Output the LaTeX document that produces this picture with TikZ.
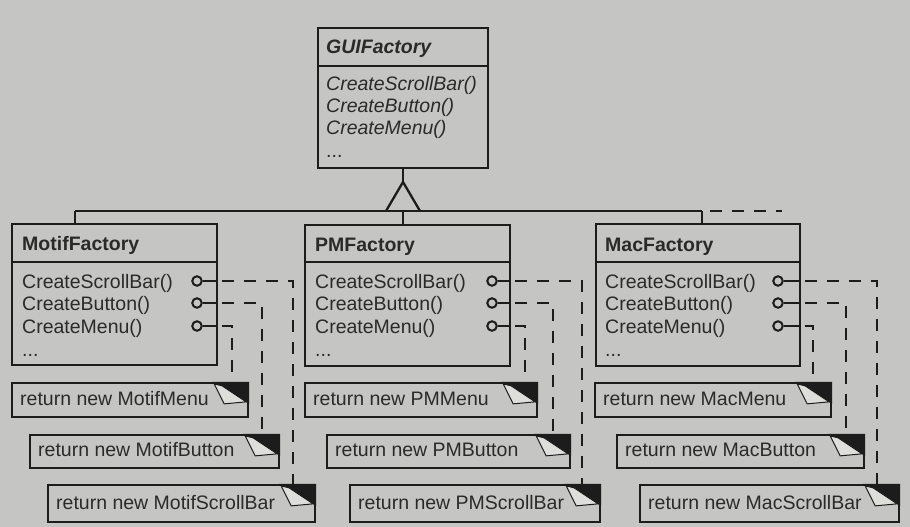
\documentclass[tikz,border=0pt]{standalone}
\usepackage{fontspec}
\setmainfont{Liberation Sans}
\usetikzlibrary{calc}
\definecolor{paper}{RGB}{197,197,195}
\definecolor{ink}{RGB}{28,28,28}
\definecolor{txt}{RGB}{42,42,42}
\definecolor{fold}{RGB}{222,222,219}
\tikzset{
  classbox/.style={draw=ink, line width=2.3pt, fill=paper, rectangle, inner sep=0pt},
  notebox/.style={draw=ink, line width=2.3pt, fill=paper, rectangle, inner sep=0pt},
  wire/.style={draw=ink, line width=2.3pt},
  dashline/.style={draw=ink, line width=2.6pt, dash pattern=on 12pt off 10pt},
  port/.style={circle, draw=ink, line width=2pt, fill=paper, minimum size=9.5pt, inner sep=0pt},
  lbl/.style={anchor=base west, text=txt, inner sep=0pt, font=\fontsize{19.5}{22}\selectfont},
  hdr/.style={lbl, font=\fontsize{19.5}{22}\selectfont\bfseries},
}
\newcommand\noteear[1]{%
  \fill[ink] ([xshift=-37pt]#1.north east) -- (#1.north east) -- ([yshift=-22pt]#1.north east) -- cycle;
  \filldraw[fill=fold, draw=ink, line width=1pt] ([xshift=-35pt,yshift=-2pt]#1.north east) -- ([xshift=-27pt,yshift=-4pt]#1.north east) -- ([xshift=-3pt,yshift=-20pt]#1.north east) -- ([xshift=-25pt,yshift=-22pt]#1.north east) -- cycle;
}
\begin{document}
\begin{tikzpicture}[x=1pt,y=-1pt]
\fill[paper] (0,0) rectangle (910,527);
\useasboundingbox (0,0) rectangle (910,527);

% ---------- abstract factory ----------
\node[classbox, minimum width=170pt, minimum height=140pt] (gui) at (403,98) {};
\draw[wire] ([yshift=-39pt]gui.north west) -- ([yshift=-39pt]gui.north east);
\node[hdr, font=\fontsize{19.5}{22}\selectfont\bfseries\itshape] (guiname) at (326,53) {GUIFactory};
\node[lbl, font=\fontsize{19.5}{22}\selectfont\itshape] (g1) at (326,90) {CreateScrollBar()};
\node[lbl, font=\fontsize{19.5}{22}\selectfont\itshape] (g2) at (326,112) {CreateButton()};
\node[lbl, font=\fontsize{19.5}{22}\selectfont\itshape] (g3) at (326,134) {CreateMenu()};
\node[lbl] (g4) at (326,157) {...};

% ---------- concrete factories ----------
\node[classbox, minimum width=205pt, minimum height=141pt] (motif) at (114.5,294.5) {};
\node[classbox, minimum width=205pt, minimum height=141pt] (pm) at (407.5,295.5) {};
\node[classbox, minimum width=204pt, minimum height=142pt] (mac) at (698,295) {};
\draw[wire] ([yshift=-39pt]motif.north west) -- ([yshift=-39pt]motif.north east);
\draw[wire] ([yshift=-38pt]pm.north west) -- ([yshift=-38pt]pm.north east);
\draw[wire] ([yshift=-39pt]mac.north west) -- ([yshift=-39pt]mac.north east);

\node[hdr] (motifname) at (22,250) {MotifFactory};
\node[lbl] (m1t) at (22,288) {CreateScrollBar()};
\node[lbl] (m2t) at (22,310) {CreateButton()};
\node[lbl] (m3t) at (22,333) {CreateMenu()};
\node[lbl] (m4t) at (22,356) {...};

\node[hdr] (pmname) at (315,251) {PMFactory};
\node[lbl] (p1t) at (315,288) {CreateScrollBar()};
\node[lbl] (p2t) at (315,310) {CreateButton()};
\node[lbl] (p3t) at (315,333) {CreateMenu()};
\node[lbl] (p4t) at (315,356) {...};

\node[hdr] (macname) at (605,251) {MacFactory};
\node[lbl] (c1t) at (605,288) {CreateScrollBar()};
\node[lbl] (c2t) at (605,310) {CreateButton()};
\node[lbl] (c3t) at (605,333) {CreateMenu()};
\node[lbl] (c4t) at (605,356) {...};

% ---------- inheritance ----------
\coordinate (apex) at (403,182);
\coordinate (tl) at (386,211);
\coordinate (tr) at (420,211);
\coordinate (tbase) at (403,211);
\coordinate (busL) at (75,211);
\coordinate (busR) at (702,211);
\coordinate (busX) at (782,211);
\draw[wire] (gui.south) -- (apex);
\draw[wire, line join=miter] (tl) -- (apex) -- (tr);
\draw[wire] (busL) -- (busR);
\draw[wire] (busL) -- (busL |- motif.north);
\draw[wire] (tbase) -- (tbase |- pm.north);
\draw[wire] (busR) -- (busR |- mac.north);
\draw[dashline, dash phase=-8pt] (busR) -- (busX);

% ---------- implementation notes ----------
\node[notebox, minimum width=236pt, minimum height=34pt] (nmm) at (130,400) {};
\node[notebox, minimum width=249pt, minimum height=33pt] (nmb) at (154.5,451.5) {};
\node[notebox, minimum width=267pt, minimum height=37pt] (nms) at (181.5,503.5) {};
\node[notebox, minimum width=232pt, minimum height=34pt] (npm) at (421,400) {};
\node[notebox, minimum width=243pt, minimum height=33pt] (npb) at (448.5,451.5) {};
\node[notebox, minimum width=250pt, minimum height=37pt] (nps) at (475,503.5) {};
\node[notebox, minimum width=236pt, minimum height=34pt] (ncm) at (713,400) {};
\node[notebox, minimum width=247pt, minimum height=33pt] (ncb) at (740.5,451.5) {};
\node[notebox, minimum width=259pt, minimum height=37pt] (ncs) at (769.5,503.5) {};
\foreach \n in {nmm,nmb,nms,npm,npb,nps,ncm,ncb,ncs} {\noteear{\n}}

\node[lbl] (tmm) at (20,405) {return new MotifMenu};
\node[lbl] (tmb) at (38,456) {return new MotifButton};
\node[lbl] (tms) at (56,509) {return new MotifScrollBar};
\node[lbl] (tpm) at (313,405) {return new PMMenu};
\node[lbl] (tpb) at (335,456) {return new PMButton};
\node[lbl] (tps) at (358,509) {return new PMScrollBar};
\node[lbl] (tcm) at (603,405) {return new MacMenu};
\node[lbl] (tcb) at (625,456) {return new MacButton};
\node[lbl] (tcs) at (648,509) {return new MacScrollBar};

% ---------- ports and links ----------
\coordinate (vmm) at (232,383);
\coordinate (vmb) at (262,435);
\coordinate (vms) at (293,485);
\coordinate (vpm) at (525,383);
\coordinate (vpb) at (553,435);
\coordinate (vps) at (582,485);
\coordinate (vcm) at (813,383);
\coordinate (vcb) at (846,435);
\coordinate (vcs) at (877,485);

\node[port] (m1) at (197,281) {};
\node[port] (m2) at (197,303) {};
\node[port] (m3) at (197,326) {};
\node[port] (p1) at (492,281) {};
\node[port] (p2) at (492,303) {};
\node[port] (p3) at (492,326) {};
\node[port] (c1) at (778,281) {};
\node[port] (c2) at (778,303) {};
\node[port] (c3) at (778,326) {};

\foreach \p/\b/\v in {m1/motif/vms, m2/motif/vmb, m3/motif/vmm,
                      p1/pm/vps, p2/pm/vpb, p3/pm/vpm,
                      c1/mac/vcs, c2/mac/vcb, c3/mac/vcm} {
  \draw[wire] (\p.east) -- (\p.east -| \b.east);
  \draw[dashline] ([xshift=4pt]\p.east -| \b.east) -| (\v);
}
\end{tikzpicture}
\end{document}
